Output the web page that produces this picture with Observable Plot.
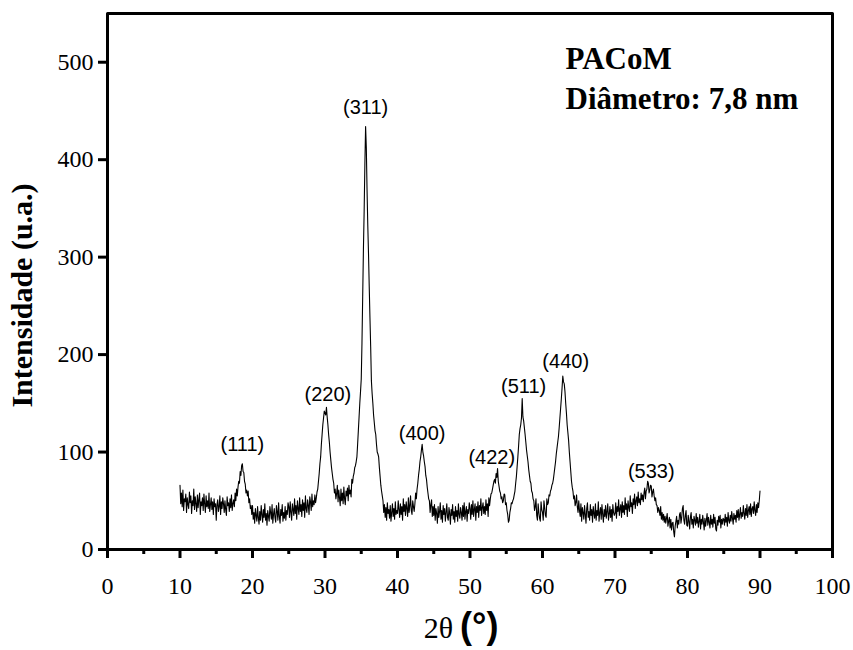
<!DOCTYPE html>
<html><head><meta charset="utf-8">
<script src="https://cdn.jsdelivr.net/npm/d3@7"></script>
<script src="https://cdn.jsdelivr.net/npm/@observablehq/plot@0.6"></script>
<style>body{margin:0;background:#fff} #chart svg{display:block}</style>
</head><body><div id="chart"></div>
<script>
// XRD pattern sampled every 0.1° from 10° to 90°
const startAngle = 10;
const stepAngle = 0.1;
const intensity = [
  // 10.0 - 14.9
  66,47,58,44,61,40,52,49,57,38,
  53,46,42,59,48,55,37,50,45,62,
  41,54,47,39,56,43,51,58,36,49,
  45,53,40,57,47,38,55,44,50,42,
  58,39,46,53,41,49,36,52,44,47,
  // 15.0 - 19.9
  30,46,51,39,44,55,36,49,42,53,
  47,38,50,41,35,54,45,48,39,52,
  43,56,40,47,51,44,58,50,62,55,
  64,70,68,80,76,86,88,80,79,70,
  67,58,61,55,60,48,52,42,45,36,
  // 20.0 - 24.9
  45,31,38,27,42,35,29,44,33,26,
  39,30,45,36,28,41,33,47,30,37,
  25,40,34,29,44,38,31,46,27,36,
  42,33,28,45,39,30,48,34,27,41,
  35,46,29,38,32,44,30,40,36,48,
  // 25.0 - 29.9
  44,33,49,38,30,47,41,35,52,37,
  45,31,50,42,36,53,39,46,34,51,
  40,48,33,55,42,38,51,45,36,54,
  49,40,57,44,50,46,56,48,53,59,
  62,70,78,88,95,108,118,128,135,142,
  // 30.0 - 34.9
  140,138,146,136,128,118,110,100,92,84,
  78,72,68,58,62,52,57,66,49,61,
  53,45,62,50,58,47,64,52,46,60,
  55,63,50,66,57,61,54,72,68,75,
  78,84,86,90,95,108,122,136,150,162,
  // 35.0 - 39.9
  175,212,260,308,347,395,434,412,369,333,
  304,270,238,208,173,160,150,138,130,122,
  118,108,100,98,95,84,75,66,60,55,
  50,38,46,33,43,30,48,37,41,32,
  45,29,38,47,34,42,31,49,36,40,
  // 40.0 - 44.9
  37,50,41,33,47,36,44,30,52,39,
  46,35,49,42,34,53,38,45,55,40,
  36,50,44,39,47,58,52,62,68,76,
  82,90,95,102,108,100,96,90,85,76,
  72,64,58,52,50,38,46,51,34,44,
  // 45.0 - 49.9
  35,46,30,42,37,27,44,33,39,48,
  31,40,28,45,36,42,29,38,47,33,
  30,43,37,26,41,35,46,31,39,28,
  44,34,40,29,47,36,32,43,38,30,
  45,34,48,31,39,44,29,41,37,48,
  // 50.0 - 54.9
  42,31,46,36,50,34,41,47,30,44,
  38,49,33,45,40,52,35,43,48,37,
  44,36,51,40,47,34,53,45,52,57,
  58,62,66,70,72,68,78,74,83,70,
  65,60,58,52,54,48,50,57,56,46,
  // 55.0 - 59.9
  48,40,36,28,30,38,42,48,47,50,
  52,56,60,68,75,85,95,106,118,124,
  128,135,155,136,132,125,118,110,102,96,
  90,82,76,70,68,60,58,52,50,40,
  44,52,35,30,47,38,32,29,49,41,
  // 60.0 - 64.9
  38,30,50,43,35,33,52,46,48,56,
  55,60,62,66,68,72,78,84,90,98,
  104,110,116,125,135,145,155,166,178,172,
  170,162,150,140,128,120,112,100,90,80,
  70,64,60,52,55,45,48,56,44,38,
  // 65.0 - 69.9
  50,40,34,47,29,43,38,31,45,36,
  27,42,48,33,39,30,46,35,41,28,
  44,37,32,47,30,40,35,49,29,38,
  43,31,46,36,28,41,34,45,32,39,
  47,30,36,44,33,41,29,46,38,35,
  // 70.0 - 74.9
  37,48,32,44,39,51,35,42,46,33,
  49,38,45,36,53,41,47,34,50,43,
  39,55,44,48,37,52,46,57,42,50,
  54,45,59,48,52,46,58,51,56,49,
  58,63,52,60,62,70,68,58,61,66,
  // 75.0 - 79.9
  65,54,59,62,55,50,53,46,45,38,
  43,40,35,44,31,38,30,36,28,34,
  27,32,37,24,29,33,22,31,20,27,
  28,18,13,24,29,34,22,30,26,36,
  38,27,33,42,45,30,26,35,40,25,
  // 80.0 - 84.9
  24,35,29,21,33,38,26,31,22,34,
  30,25,37,27,33,23,29,36,21,31,
  26,35,28,20,32,24,30,37,25,33,
  28,22,35,26,31,23,36,27,33,21,
  19,30,25,34,28,35,22,31,26,32,
  // 85.0 - 89.9
  31,25,36,28,33,24,38,30,27,35,
  29,39,32,26,37,31,35,28,40,33,
  41,30,36,43,32,38,34,45,37,31,
  42,35,46,33,40,44,36,47,34,42,
  44,37,49,40,35,46,38,48,43,50,
  // 90.0
  60
];

const peakLabels = ["(111)","(220)","(311)","(400)","(422)","(511)","(440)","(533)"];
const peakLabelAngles = [18.6, 30.4, 35.6, 43.4, 53.0, 57.4, 63.2, 75.0];
const peakLabelIntensities = [108, 159, 453, 119, 94, 167, 193, 80];

const xMajorTicks = [0,10,20,30,40,50,60,70,80,90,100];
const xMinorTicks = [5,15,25,35,45,55,65,75,85,95];
const yTicks = [0,100,200,300,400,500];

const sampleTitle = "PACoM\nDiâmetro: 7,8 nm";
const yTitle = "Intensidade (u.a.)";
const xTitleMain = "2θ";
const xTitleUnit = "(°)";

const pattern = intensity.map((v, i) => ({angle: +(startAngle + i * stepAngle).toFixed(1), value: v}));
const peaks = peakLabels.map((l, i) => ({label: l, angle: peakLabelAngles[i], value: peakLabelIntensities[i]}));

const serif = "'Liberation Serif', 'Times New Roman', serif";
const sans = "'Liberation Sans', Arial, sans-serif";

const chart = Plot.plot({
  width: 853,
  height: 650,
  marginLeft: 107,
  marginRight: 21,
  marginTop: 13,
  marginBottom: 101,
  x: {domain: [0, 100]},
  y: {domain: [0, 550]},
  style: {fontFamily: serif, background: "white", color: "black"},
  marks: [
    Plot.axisX({ticks: xMajorTicks, tickSize: 9, strokeWidth: 3, tickPadding: 18, fontSize: 24, label: null, tickFormat: d => String(d), fill: "black"}),
    Plot.axisX({ticks: xMinorTicks, tickSize: 5, strokeWidth: 3, label: null, tickFormat: () => ""}),
    Plot.axisY({ticks: yTicks, tickSize: 9, strokeWidth: 3, tickPadding: 5, fontSize: 24, label: null, tickFormat: d => String(d), fill: "black"}),
    Plot.lineY(pattern, {x: "angle", y: "value", stroke: "black", strokeWidth: 1.1}),
    Plot.frame({stroke: "black", strokeWidth: 3, strokeLinejoin: "round"}),
    Plot.text(peaks, {x: "angle", y: "value", text: "label", fontFamily: sans, fontSize: 20, fill: "black"}),
    Plot.text([sampleTitle], {frameAnchor: "top-left", dx: 458, dy: 28, lineAnchor: "top", textAnchor: "start", fontSize: 31, fontWeight: "bold", lineHeight: 1.27, fill: "black"}),
    Plot.text([yTitle], {frameAnchor: "left", rotate: -90, dx: -85, dy: 14, textAnchor: "middle", fontSize: 30, fontWeight: "bold", fill: "black"}),
    Plot.text([xTitleMain], {frameAnchor: "bottom", dx: -17, dy: 88, textAnchor: "end", fontSize: 30, fill: "black"}),
    Plot.text([xTitleUnit], {frameAnchor: "bottom", dx: -10, dy: 88, textAnchor: "start", fontSize: 36, fontWeight: "bold", fontFamily: sans, fill: "black"})
  ]
});
document.getElementById("chart").append(chart);
</script>
</body></html>
